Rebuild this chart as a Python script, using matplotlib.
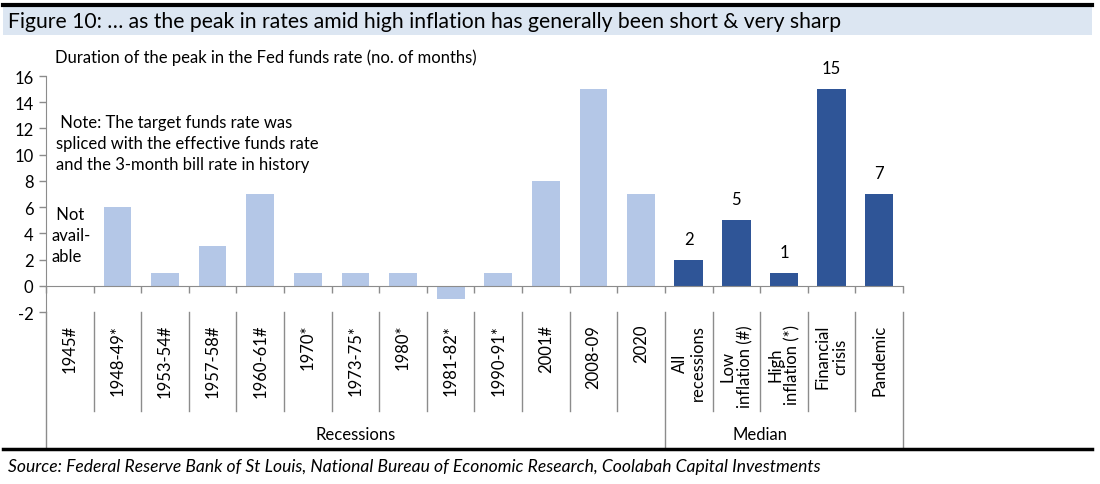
import numpy as np
import matplotlib
matplotlib.use("Agg")
import matplotlib.pyplot as plt
from matplotlib.transforms import blended_transform_factory
from matplotlib.lines import Line2D
from matplotlib.patches import Rectangle

plt.rcParams['font.family'] = ['Lato', 'DejaVu Sans']

# data
recessions = ['1945#', '1948-49*', '1953-54#', '1957-58#', '1960-61#', '1970*',
              '1973-75*', '1980*', '1981-82*', '1990-91*', '2001#', '2008-09', '2020']
recession_vals = [np.nan, 6, 1, 3, 7, 1, 1, 1, -1, 1, 8, 15, 7]
medians = ['All\nrecessions', 'Low\ninflation (#)', 'High\ninflation (*)',
           'Financial\ncrisis', 'Pandemic']
median_vals = [2, 5, 1, 15, 7]
yticks = list(range(-2, 17, 2))

light = '#B4C7E7'
dark = '#2F5597'
grey = '#8C8C8C'
fs = 12

W, H = 1100, 485
fig = plt.figure(figsize=(W / 100, H / 100), dpi=100)

def fx(px):
    return px / W

def fy(py):
    return 1 - py / H

ax = fig.add_axes([fx(46), fy(313), fx(903) - fx(46), fy(77) - fy(313)])

n_rec = len(recessions)
labels = recessions + medians
xr = np.arange(n_rec)
xm = np.arange(n_rec, n_rec + len(medians))
ax.bar(xr, recession_vals, width=0.58, color=light, zorder=2)
ax.bar(xm, median_vals, width=0.6, color=dark, zorder=2)

for x, v in zip(xm, median_vals):
    ax.annotate(str(v), (x, v), xytext=(0, 15), textcoords='offset points',
                ha='center', va='center', fontsize=fs)

ax.set_xlim(-0.5, len(labels) - 0.5)
ax.set_ylim(-2, 16)
ax.set_yticks(yticks)
ax.set_yticklabels([str(t) for t in yticks], fontsize=fs)
ax.set_xticks(np.arange(-0.5, len(labels), 1.0))
ax.set_xticklabels([])
ax.tick_params(axis='y', direction='out', length=5, color=grey, width=1, pad=4)
ax.tick_params(axis='x', direction='out', length=5, color=grey, width=1)
for s in ['top', 'right']:
    ax.spines[s].set_visible(False)
ax.spines['bottom'].set_position(('data', 0))
ax.spines['bottom'].set_color(grey)
ax.spines['left'].set_color(grey)

# category labels and separators below the axes
tr = blended_transform_factory(ax.transData, fig.transFigure)
for i, lab in enumerate(labels):
    ax.text(i, fy(325), lab, rotation=90, ha='center', va='top',
            multialignment='center', fontsize=fs, transform=tr,
            linespacing=1.1)
for b in np.arange(-0.5, len(labels), 1.0):
    long_line = b in (-0.5, n_rec - 0.5, len(labels) - 0.5)
    y_end = fy(448) if long_line else fy(412)
    ax.add_line(Line2D([b, b], [fy(313), y_end], transform=tr, color=grey,
                       lw=1, clip_on=False))

ax.text((n_rec - 1) / 2, fy(435), 'Recessions', ha='center', va='center',
        fontsize=fs, transform=tr)
ax.text(n_rec - 0.5 + len(medians) / 2 - 0.5, fy(435), 'Median', ha='center',
        va='center', fontsize=fs, transform=tr)

# notes inside chart
fig.text(fx(55), fy(58), 'Duration of the peak in the Fed funds rate (no. of months)',
         ha='left', va='center', fontsize=fs)
fig.text(fx(56), fy(144), ' Note: The target funds rate was\nspliced with the effective funds rate\n'
         'and the 3-month bill rate in history', ha='left', va='center',
         fontsize=fs, linespacing=1.4)
fig.text(fx(52), fy(236), ' Not\navail-\nable', ha='left', va='center',
         fontsize=fs, linespacing=1.4)

# header band, rules and source
fig.add_artist(Rectangle((fx(3), fy(36)), fx(1092) - fx(3), fy(8) - fy(36),
                         transform=fig.transFigure, color='#DCE6F2', lw=0))
fig.add_artist(Line2D([fx(3), fx(1092)], [fy(6), fy(6)], transform=fig.transFigure,
                      color='black', lw=3))
fig.add_artist(Line2D([fx(3), fx(1092)], [fy(450), fy(450)], transform=fig.transFigure,
                      color='black', lw=2.5))
fig.text(fx(8), fy(22), 'Figure 10: \u2026 as the peak in rates amid high inflation has generally been short & very sharp',
         ha='left', va='center', fontsize=15.2)
fig.text(fx(8), fy(467), 'Source: Federal Reserve Bank of St Louis, National Bureau of Economic Research, '
         'Coolabah Capital Investments', ha='left', va='center', fontsize=12.6,
         style='italic')

fig.savefig('out.png', dpi=100)
